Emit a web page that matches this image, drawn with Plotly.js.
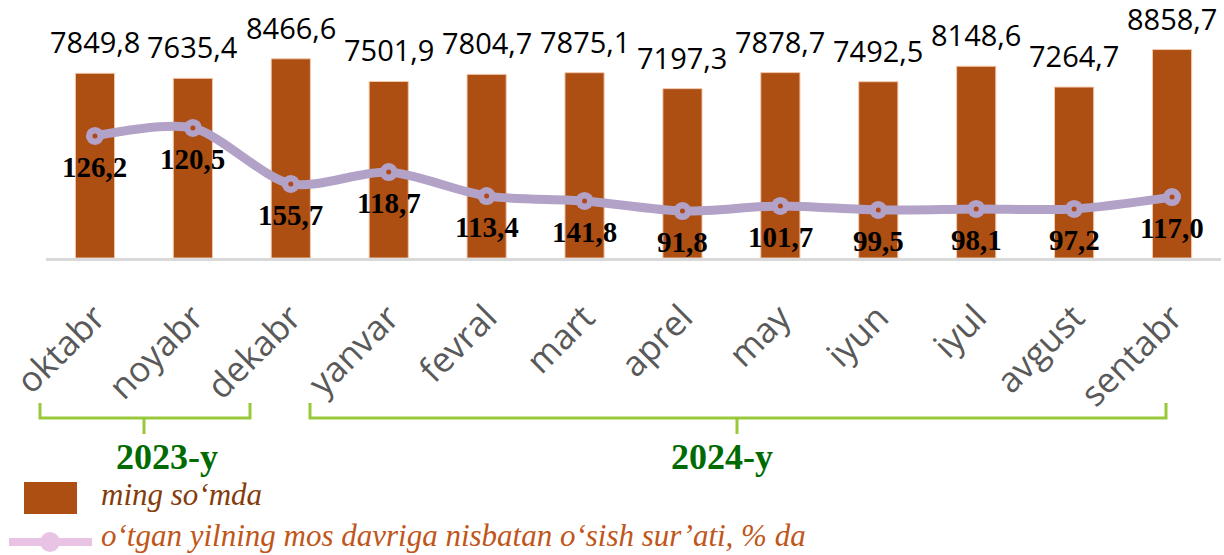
<!DOCTYPE html>
<html>
<head>
<meta charset="utf-8">
<script src="https://cdn.plot.ly/plotly-3.0.1.min.js"></script>
<style>html,body{margin:0;padding:0;background:#fff;}#chart{width:1224px;height:555px;}</style>
</head>
<body>
<div id="chart"></div>
<script>
// ---- data ----
const months = ["oktabr","noyabr","dekabr","yanvar","fevral","mart","aprel","may","iyun","iyul","avgust","sentabr"];
const wage = [7849.8, 7635.4, 8466.6, 7501.9, 7804.7, 7875.1, 7197.3, 7878.7, 7492.5, 8148.6, 7264.7, 8858.7];
const growthLabels = ["126,2","120,5","155,7","118,7","113,4","141,8","91,8","101,7","99,5","98,1","97,2","117,0"];
// level at which the growth line is drawn in the source picture (hidden secondary scale 0-100)
const growthLine = [47.3, 50.4, 28.7, 33.3, 24.0, 22.1, 18.2, 20.2, 18.6, 19.0, 19.0, 23.6];
const yearGroups = ["2023-y", "2024-y"];
const legendTexts = ["ming so‘mda", "o‘tgan yilning mos davriga nisbatan o‘sish sur’ati, % da"];

// ---- layout helpers (pixel -> paper) ----
const L = 46, W = 1175, PH = 258;
const X = px => (px - L) / W;
const Y = py => (PH - py) / PH;
const P = (pts) => pts.map(([c, x, y]) => c + X(x).toFixed(5) + ',' + Y(y).toFixed(5)).join(' ');

const fmt = v => v.toFixed(1).replace('.', ',');

const traces = [
  {
    type: 'bar', x: months, y: wage, yaxis: 'y',
    marker: {color: '#ad4e13', line: {color: '#f2c9ad', width: 1}},
    hoverinfo: 'skip', showlegend: false
  },
  {
    type: 'scatter', mode: 'lines+markers', x: months, y: growthLine, yaxis: 'y2',
    line: {color: '#b3a2c7', width: 9, shape: 'spline', smoothing: 0.8},
    marker: {color: '#b3a2c7', size: 18},
    hoverinfo: 'skip', showlegend: false, cliponaxis: false
  },
  {
    type: 'scatter', mode: 'markers', x: months, y: growthLine, yaxis: 'y2',
    marker: {color: '#b0481c', size: 5},
    hoverinfo: 'skip', showlegend: false, cliponaxis: false
  }
];

const annotations = [];
months.forEach((m, i) => {
  annotations.push({
    x: m, y: wage[i], xref: 'x', yref: 'y', text: fmt(wage[i]),
    showarrow: false, yanchor: 'bottom', yshift: 11, borderpad: 0,
    font: {family: 'Open Sans', size: 29, color: '#000000'}
  });
  annotations.push({
    x: m, y: growthLine[i], xref: 'x', yref: 'y2', text: growthLabels[i],
    showarrow: false, yanchor: 'top', yshift: -13,
    font: {family: 'Liberation Serif', size: 29, color: '#000000', weight: 'bold'}
  });
});
// year group labels
annotations.push({x: X(167), y: Y(457), xref: 'paper', yref: 'paper', text: yearGroups[0], showarrow: false,
  xanchor: 'center', yanchor: 'middle', font: {family: 'Liberation Serif', size: 36, color: '#006b00', weight: 'bold'}});
annotations.push({x: X(722), y: Y(457), xref: 'paper', yref: 'paper', text: yearGroups[1], showarrow: false,
  xanchor: 'center', yanchor: 'middle', font: {family: 'Liberation Serif', size: 36, color: '#006b00', weight: 'bold'}});
// legend texts
annotations.push({x: X(100), y: Y(495), xref: 'paper', yref: 'paper', text: legendTexts[0], showarrow: false,
  xanchor: 'left', yanchor: 'middle', borderpad: 0, font: {family: 'Liberation Serif', size: 31, color: '#843c0c', style: 'italic'}});
annotations.push({x: X(100), y: Y(535), xref: 'paper', yref: 'paper', text: legendTexts[1], showarrow: false,
  xanchor: 'left', yanchor: 'middle', borderpad: 0, font: {family: 'Liberation Serif', size: 31, color: '#c0561a', style: 'italic'}});

const green = '#99c93a';
const shapes = [
  {type: 'path', xref: 'paper', yref: 'paper', line: {color: green, width: 3},
   path: P([['M',40,403],['L',40,418],['L',250,418],['L',250,403],['M',144,418],['L',144,434]])},
  {type: 'path', xref: 'paper', yref: 'paper', line: {color: green, width: 3},
   path: P([['M',310,403],['L',310,418],['L',1166,418],['L',1166,403],['M',737,418],['L',737,434]])},
  // legend symbols
  {type: 'rect', xref: 'paper', yref: 'paper', x0: X(24), x1: X(77), y0: Y(482), y1: Y(514),
   fillcolor: '#ad4e13', line: {width: 0}},
  {type: 'line', xref: 'paper', yref: 'paper', x0: X(9), x1: X(92), y0: Y(542), y1: Y(542),
   line: {color: '#e9c3e3', width: 8}},
  {type: 'circle', xref: 'paper', yref: 'paper', x0: X(40), x1: X(60), y0: Y(532), y1: Y(552),
   fillcolor: '#e9c3e3', line: {width: 0}}
];

const layout = {
  width: 1224, height: 555,
  margin: {l: L, r: 3, t: 0, b: 297},
  paper_bgcolor: '#ffffff', plot_bgcolor: '#ffffff',
  bargap: 0.6,
  showlegend: false,
  xaxis: {
    type: 'category', range: [-0.5, 11.5], fixedrange: true,
    showline: true, linecolor: '#d9d9d9', linewidth: 3, ticks: '',
    tickangle: -45, ticklabelstandoff: 22,
    tickfont: {family: 'Open Sans', size: 35, color: '#595959'},
    showgrid: false, zeroline: false
  },
  yaxis: {range: [0, 10965], visible: false, showgrid: false, zeroline: false, fixedrange: true},
  yaxis2: {range: [0, 100], overlaying: 'y', visible: false, showgrid: false, zeroline: false, fixedrange: true},
  annotations: annotations,
  shapes: shapes
};

Plotly.newPlot('chart', traces, layout, {displayModeBar: false, staticPlot: true});
</script>
</body>
</html>
